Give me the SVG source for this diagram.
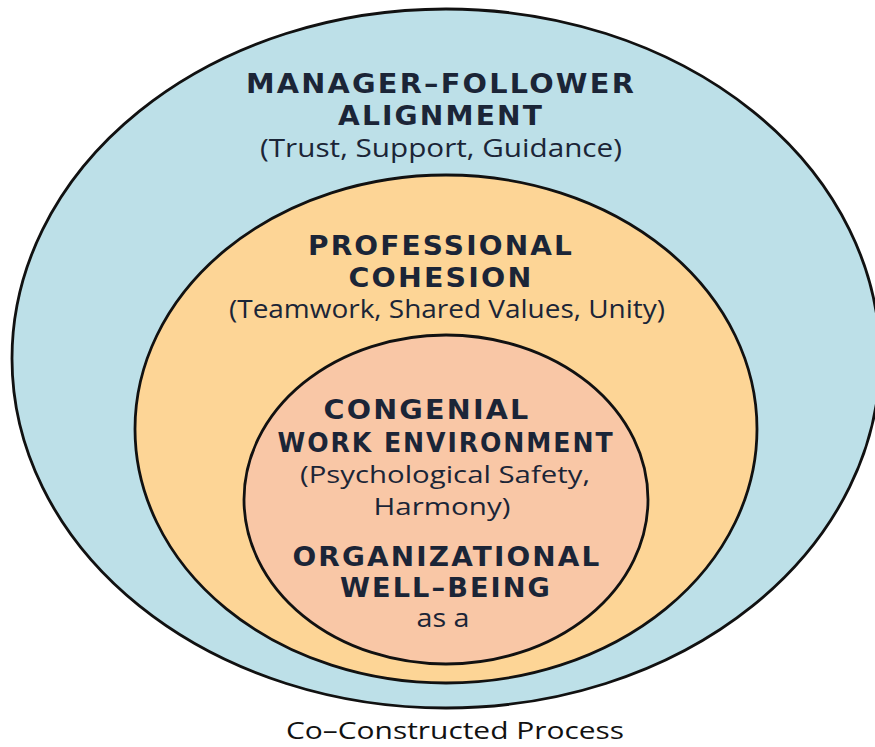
<svg xmlns="http://www.w3.org/2000/svg" width="875" height="747" viewBox="0 0 875 747">
  <style>
    .ring { stroke: #111111; stroke-width: 2.8; }
    .outer { fill: #bde0e8; }
    .middle { fill: #fdd596; }
    .inner { fill: #f9c7a6; }
    .head { font-family: "DejaVu Sans", "Liberation Sans", sans-serif; font-weight: bold; font-size: 26px; letter-spacing: 2px; fill: #1b2537; text-anchor: middle; }
    .sub { font-family: "Open Sans", "Liberation Sans", sans-serif; font-size: 25px; fill: #1b2537; text-anchor: middle; }
    .sub.tight { font-size: 23px; }
    .cap { font-family: "Open Sans", "Liberation Sans", sans-serif; font-size: 24px; fill: #111111; text-anchor: middle; }
  </style>
  <rect width="875" height="747" fill="#ffffff"/>

  <!-- outer layer: manager-follower alignment -->
  <g id="alignment">
    <ellipse class="ring outer" cx="446" cy="358.5" rx="434" ry="349.5"/>
    <text class="head" x="441" y="93" textLength="390" lengthAdjust="spacingAndGlyphs">MANAGER–FOLLOWER</text>
    <text class="head" x="441" y="125" textLength="206" lengthAdjust="spacingAndGlyphs">ALIGNMENT</text>
    <text class="sub" x="441" y="157" textLength="362" lengthAdjust="spacingAndGlyphs">(Trust, Support, Guidance)</text>
  </g>

  <!-- middle layer: professional cohesion -->
  <g id="cohesion">
    <ellipse class="ring middle" cx="446" cy="429" rx="311" ry="254"/>
    <text class="head" x="441" y="255" textLength="266" lengthAdjust="spacingAndGlyphs">PROFESSIONAL</text>
    <text class="head" x="441" y="287" textLength="185" lengthAdjust="spacingAndGlyphs">COHESION</text>
    <text class="sub" x="447" y="318" textLength="436" lengthAdjust="spacingAndGlyphs">(Teamwork, Shared Values, Unity)</text>
  </g>

  <!-- inner layer: congenial work environment / well-being -->
  <g id="environment">
    <ellipse class="ring inner" cx="446" cy="499.5" rx="202" ry="164.5"/>
    <text class="head" x="427" y="419" textLength="207" lengthAdjust="spacingAndGlyphs">CONGENIAL</text>
    <text class="head" x="446" y="452" textLength="337" lengthAdjust="spacingAndGlyphs">WORK ENVIRONMENT</text>
    <text class="sub tight" x="445" y="483" textLength="290" lengthAdjust="spacingAndGlyphs">(Psychological Safety,</text>
    <text class="sub tight" x="442" y="515" textLength="137" lengthAdjust="spacingAndGlyphs">Harmony)</text>
    <text class="head" x="447" y="566" textLength="309" lengthAdjust="spacingAndGlyphs">ORGANIZATIONAL</text>
    <text class="head" x="446" y="597" textLength="212" lengthAdjust="spacingAndGlyphs">WELL–BEING</text>
    <text class="sub" x="443" y="627" textLength="53" lengthAdjust="spacingAndGlyphs">as a</text>
  </g>

  <g id="caption">
    <text class="cap" x="455" y="739" textLength="338" lengthAdjust="spacingAndGlyphs">Co–Constructed Process</text>
  </g>
</svg>
